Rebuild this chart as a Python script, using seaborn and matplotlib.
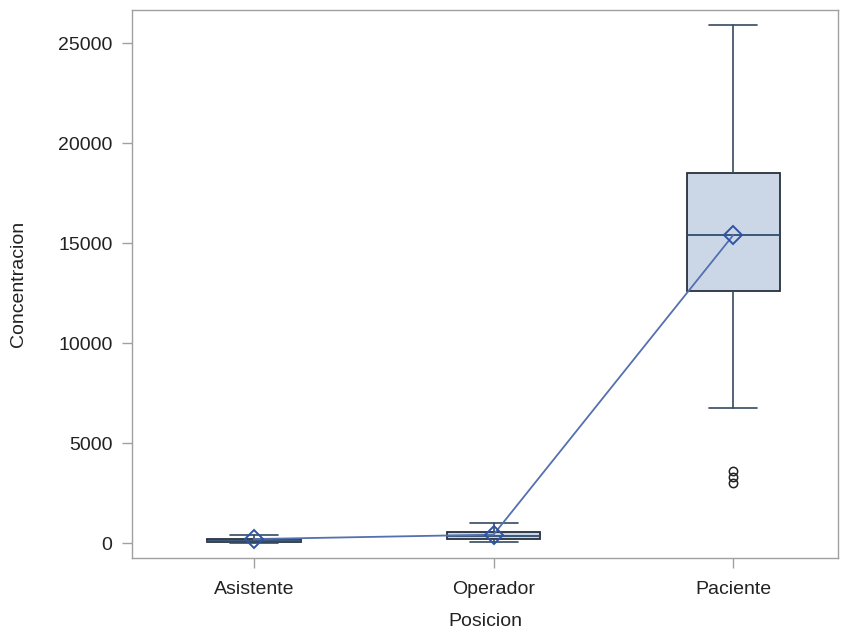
import numpy as np
import pandas as pd
import matplotlib
matplotlib.use('Agg')
import matplotlib.pyplot as plt
import seaborn as sns

# values
posiciones = ['Asistente', 'Operador', 'Paciente']
minimos = [0, 50, 6750]
q1 = [60, 200, 12600]
medianas = [120, 350, 15400]
q3 = [180, 550, 18500]
maximos = [400, 1000, 25900]
medias = [200, 420, 15400]
atipicos = [[], [], [3000, 3300, 3600]]

sns.set_theme(style='white')
plt.rcParams['font.family'] = ['Liberation Sans', 'DejaVu Sans']
plt.rcParams['text.color'] = '#222222'
plt.rcParams['axes.labelcolor'] = '#222222'
plt.rcParams['xtick.color'] = '#222222'
plt.rcParams['ytick.color'] = '#222222'

fig = plt.figure(figsize=(8.45, 6.32), dpi=100)
ax = fig.add_axes([0.156, 0.117, 0.836, 0.867])

# box statistics for each position
stats = []
for i, p in enumerate(posiciones):
    stats.append(dict(label=p, whislo=minimos[i], q1=q1[i], med=medianas[i],
                      q3=q3[i], whishi=maximos[i], mean=medias[i],
                      fliers=np.array(atipicos[i])))

pos = np.arange(len(posiciones))
ax.bxp(stats, positions=pos, widths=0.39, capwidths=0.2, patch_artist=True,
       showmeans=False, showfliers=True,
       boxprops=dict(facecolor='#cbd6e6', edgecolor='#26303d', linewidth=1.3),
       medianprops=dict(color='#2f4d70', linewidth=1.3),
       whiskerprops=dict(color='#354a60', linewidth=1.2),
       capprops=dict(color='#354a60', linewidth=1.2),
       flierprops=dict(marker='o', markerfacecolor='none', markeredgecolor='#222222',
                       markersize=6, markeredgewidth=1.1))

# line connecting the means
df_medias = pd.DataFrame({'pos': pos, 'media': medias})
sns.lineplot(data=df_medias, x='pos', y='media', ax=ax, color='#5470b0',
             linewidth=1.3, marker='D', markersize=9, markerfacecolor='none',
             markeredgecolor='#2e54a6', markeredgewidth=1.4, zorder=5)

ax.set_xlim(-0.509, 2.438)
ax.set_ylim(-750, 26650)
ax.set_xticks(pos)
ax.set_xticklabels(posiciones)
ax.set_yticks([0, 5000, 10000, 15000, 20000, 25000])
ax.set_xlabel('Posicion', fontsize=14, labelpad=11)
ax.set_ylabel('Concentracion', fontsize=14, labelpad=22)
ax.tick_params(axis='both', labelsize=14, length=7, width=1, color='#a0a0a0',
               direction='out', bottom=True, left=True)
ax.tick_params(axis='x', pad=9.5)
ax.tick_params(axis='y', pad=7)
for s in ax.spines.values():
    s.set_color('#a0a0a0')
    s.set_linewidth(1)

fig.savefig('out.png', dpi=100)
